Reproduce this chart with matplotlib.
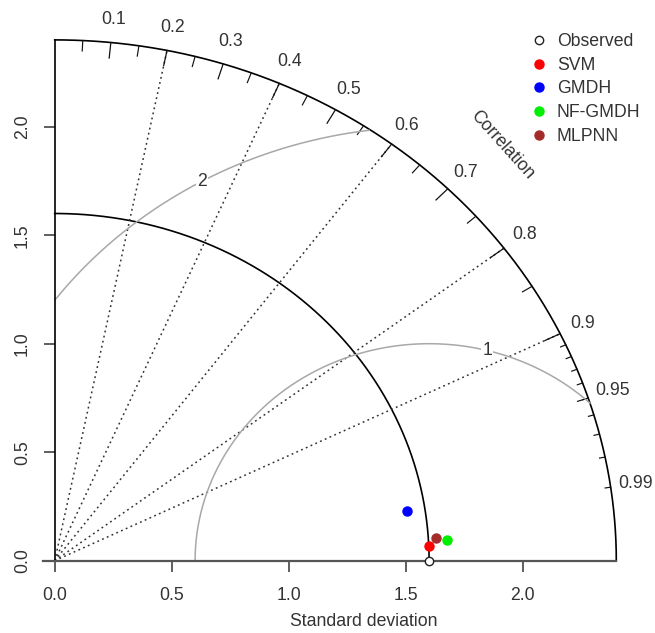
import numpy as np
import matplotlib
matplotlib.use("Agg")
import matplotlib.pyplot as plt
from matplotlib.lines import Line2D

plt.rcParams['font.family'] = ['Liberation Sans', 'DejaVu Sans']

# Reference (observed) standard deviation and model statistics
ref_sd = 1.6
models = ["SVM", "GMDH", "NF-GMDH", "MLPNN"]
model_sd = [1.601, 1.524, 1.678, 1.633]
model_corr = [0.9991, 0.9885, 0.9984, 0.9980]
model_colors = ["#ff0000", "#0000ff", "#00ee00", "#a52a2a"]

max_sd = 2.4
sd_ticks = [0.0, 0.5, 1.0, 1.5, 2.0]
corr_labels = [0.1, 0.2, 0.3, 0.4, 0.5, 0.6, 0.7, 0.8, 0.9, 0.95, 0.99]
corr_lines = [0.2, 0.4, 0.6, 0.8, 0.9]
rms_levels = [1, 2]
rms_label_deg = [75.6, 119.0]

W, H = 655, 633
fig = plt.figure(figsize=(W / 100, H / 100), dpi=100)
x0, y0 = 54.7, 560.7          # origin in pixels (from top)
ux, uy = 234.0, 217.0         # pixels per unit
ax = fig.add_axes([x0 / W, (H - y0) / H, (W - x0) / W, y0 / H])
ax.set_xlim(0, (W - x0) / ux)
ax.set_ylim(0, y0 / uy)
for s in ("top", "right"):
    ax.spines[s].set_visible(False)
ax.spines["bottom"].set_bounds(-0.05, max_sd)
ax.spines["bottom"].set_color("#555555")
ax.spines["bottom"].set_linewidth(1.6)
ax.spines["left"].set_bounds(0, max_sd)
ax.spines["left"].set_linewidth(1.2)
ax.set_xticks(sd_ticks)
ax.set_yticks(sd_ticks)
ax.set_xticklabels([f"{v:.1f}" for v in sd_ticks])
ax.set_yticklabels([f"{v:.1f}" for v in sd_ticks], rotation=90, va="center")
ax.tick_params(axis="both", length=8, width=1.1, color="#333333",
               labelsize=12.7, labelcolor="#333333")
ax.tick_params(axis="x", pad=11)
ax.tick_params(axis="y", pad=9)
ax.patch.set_visible(False)

text_col = "#333333"

# outer arc
th = np.linspace(0, np.pi / 2, 400)
ax.plot(max_sd * np.cos(th), max_sd * np.sin(th), color="black", lw=1.2, clip_on=False)

# reference standard deviation arc
ax.plot(ref_sd * np.cos(th), ref_sd * np.sin(th), color="black", lw=1.2, clip_on=False)

# correlation rays
for c in corr_lines:
    a = np.arccos(c)
    ax.plot([0, max_sd * np.cos(a)], [0, max_sd * np.sin(a)], color="#333333",
            lw=1.1, linestyle=(0, (1.2, 2.2)), clip_on=False)

# ticks on the outer arc
def arc_ticks(vals, frac, lw):
    for c in vals:
        a = np.arccos(c)
        ax.plot([max_sd * np.cos(a), frac * max_sd * np.cos(a)],
                [max_sd * np.sin(a), frac * max_sd * np.sin(a)],
                color="#111111", lw=lw, clip_on=False)

arc_ticks(np.arange(0.1, 0.91, 0.1), 0.97, 0.9)
arc_ticks(np.arange(0.05, 0.96, 0.1), 0.98, 0.85)
arc_ticks(np.arange(0.91, 0.995, 0.01), 0.99, 0.85)

for c in corr_labels:
    a = np.arccos(c)
    ax.text(1.045 * max_sd * np.cos(a), 1.045 * max_sd * np.sin(a), f"{c:g}",
            ha="center", va="center", fontsize=12.7, color=text_col, clip_on=False)

ax.text(1.128 * max_sd * np.cos(np.pi / 4), 1.128 * max_sd * np.sin(np.pi / 4),
        "Correlation", rotation=-48, ha="center", va="center",
        fontsize=12.7, color=text_col, rotation_mode="anchor")

# centred RMS difference contours
phi = np.linspace(np.pi, 0, 600)
for g, deg in zip(rms_levels, rms_label_deg):
    xc = ref_sd + g * np.cos(phi)
    yc = g * np.sin(phi)
    keep = (xc >= 0) & (xc ** 2 + yc ** 2 <= max_sd ** 2)
    ax.plot(xc[keep], yc[keep], color="#a8a8a8", lw=1.1, clip_on=False)
    r = np.deg2rad(deg)
    ax.text(ref_sd + g * np.cos(r), g * np.sin(r), str(g), ha="center", va="center",
            fontsize=12.7, color=text_col,
            bbox=dict(boxstyle="square,pad=0.05", fc="white", ec="none"))

# observed point and models
ax.plot([ref_sd], [0], marker="o", ms=6, mfc="white", mec="#222222", mew=1.0,
        linestyle="none", clip_on=False, zorder=5)
for name, sd, cr, col in zip(models, model_sd, model_corr, model_colors):
    a = np.arccos(cr)
    ax.plot([sd * np.cos(a)], [sd * np.sin(a)], marker="o", ms=6.5, color=col,
            linestyle="none", clip_on=False, zorder=5)

ax.text(1.32, -(622 - y0) / uy, "Standard deviation", ha="center", va="center",
        fontsize=12.7, color=text_col)

handles = [Line2D([], [], marker="o", linestyle="none", ms=6, mfc="white",
                  mec="#222222", mew=1.0)]
handles += [Line2D([], [], marker="o", linestyle="none", ms=6.5, color=c)
            for c in model_colors]
leg = fig.legend(handles, ["Observed"] + models, loc="upper left",
                 bbox_to_anchor=(532 / W, 1 - 33 / H), frameon=False,
                 fontsize=12.7, handlelength=0.8, handletextpad=0.6,
                 labelspacing=0.38, borderpad=0, borderaxespad=0)
for t in leg.get_texts():
    t.set_color(text_col)

fig.savefig("out.png", dpi=100)
